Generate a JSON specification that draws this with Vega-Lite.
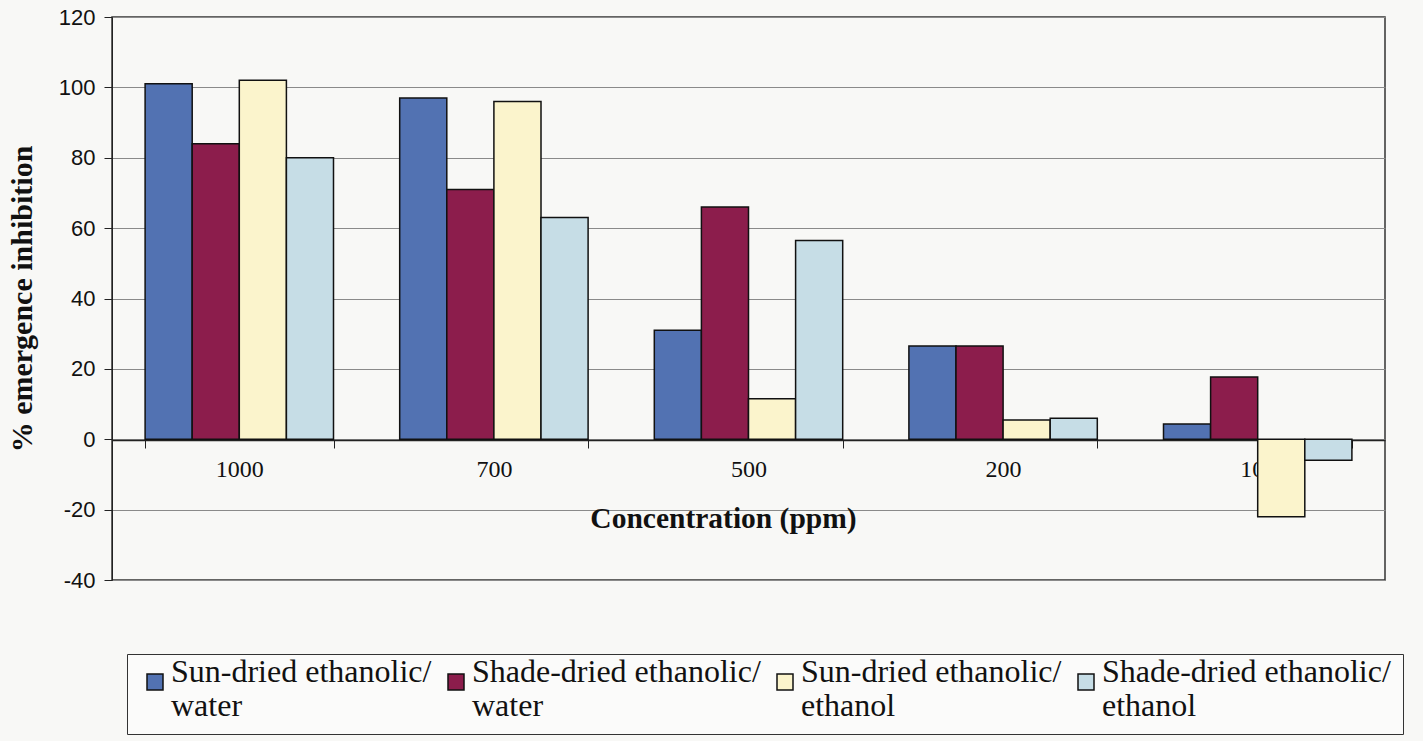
{
  "$schema": "https://vega.github.io/schema/vega-lite/v6.json",
  "autosize": "none",
  "width": 1273,
  "height": 563,
  "padding": {"left": 112, "top": 17, "right": 38, "bottom": 161},
  "background": "#f8f8f6",
  "config": {
    "view": {"stroke": "#333333", "strokeWidth": 1.5},
    "axis": {"labelColor": "#111111", "titleColor": "#111111"}
  },
  "data": {
    "values": [
      {"conc": "1000", "series": "Sun-dried ethanolic/water", "value": 101},
      {"conc": "1000", "series": "Shade-dried ethanolic/water", "value": 84},
      {"conc": "1000", "series": "Sun-dried ethanolic/ethanol", "value": 102},
      {"conc": "1000", "series": "Shade-dried ethanolic/ethanol", "value": 80},
      {"conc": "700", "series": "Sun-dried ethanolic/water", "value": 97},
      {"conc": "700", "series": "Shade-dried ethanolic/water", "value": 71},
      {"conc": "700", "series": "Sun-dried ethanolic/ethanol", "value": 96},
      {"conc": "700", "series": "Shade-dried ethanolic/ethanol", "value": 63},
      {"conc": "500", "series": "Sun-dried ethanolic/water", "value": 31},
      {"conc": "500", "series": "Shade-dried ethanolic/water", "value": 66},
      {"conc": "500", "series": "Sun-dried ethanolic/ethanol", "value": 11.5},
      {"conc": "500", "series": "Shade-dried ethanolic/ethanol", "value": 56.5},
      {"conc": "200", "series": "Sun-dried ethanolic/water", "value": 26.5},
      {"conc": "200", "series": "Shade-dried ethanolic/water", "value": 26.5},
      {"conc": "200", "series": "Sun-dried ethanolic/ethanol", "value": 5.5},
      {"conc": "200", "series": "Shade-dried ethanolic/ethanol", "value": 6},
      {"conc": "100", "series": "Sun-dried ethanolic/water", "value": 4.3},
      {"conc": "100", "series": "Shade-dried ethanolic/water", "value": 17.7},
      {"conc": "100", "series": "Sun-dried ethanolic/ethanol", "value": -22},
      {"conc": "100", "series": "Shade-dried ethanolic/ethanol", "value": -6}
    ]
  },
  "mark": {"type": "bar", "stroke": "#111111", "strokeWidth": 1.5},
  "encoding": {
    "x": {
      "field": "conc",
      "type": "nominal",
      "sort": ["1000", "700", "500", "200", "100"],
      "scale": {"paddingInner": 0.26, "paddingOuter": 0.13},
      "axis": {
        "title": "Concentration (ppm)",
        "titleFont": "Liberation Serif",
        "titleFontSize": 29.5,
        "titleFontWeight": "bold",
        "titlePadding": 23,
        "titleX": 611,
        "titleAlign": "center",
        "labelFont": "Liberation Serif",
        "labelFontSize": 24,
        "labelPadding": 9,
        "labelAngle": 0,
        "offset": -140,
        "domainColor": "#222222",
        "domainWidth": 1.5,
        "tickBand": "extent",
        "tickColor": "#222222",
        "tickSize": 8,
        "grid": false
      }
    },
    "xOffset": {
      "field": "series",
      "type": "nominal",
      "sort": ["Sun-dried ethanolic/water", "Shade-dried ethanolic/water", "Sun-dried ethanolic/ethanol", "Shade-dried ethanolic/ethanol"]
    },
    "y": {
      "field": "value",
      "type": "quantitative",
      "scale": {"domain": [-40, 120], "nice": false},
      "axis": {
        "title": "% emergence inhibition",
        "titleFont": "Liberation Serif",
        "titleFontSize": 30,
        "titleFontWeight": "bold",
        "titlePadding": 21,
        "labelFont": "Liberation Sans",
        "labelFontSize": 22,
        "labelPadding": 9,
        "labelExpr": "toString(datum.value)",
        "values": [-40, -20, 0, 20, 40, 60, 80, 100, 120],
        "grid": true,
        "gridColor": "#8a8a8a",
        "gridWidth": 1.2,
        "domainColor": "#222222",
        "tickColor": "#222222",
        "tickSize": 8
      }
    },
    "color": {
      "field": "series",
      "type": "nominal",
      "sort": ["Sun-dried ethanolic/water", "Shade-dried ethanolic/water", "Sun-dried ethanolic/ethanol", "Shade-dried ethanolic/ethanol"],
      "scale": {
        "domain": ["Sun-dried ethanolic/water", "Shade-dried ethanolic/water", "Sun-dried ethanolic/ethanol", "Shade-dried ethanolic/ethanol"],
        "range": ["#5272b2", "#8c1d4c", "#fbf4cc", "#c6dde6"]
      },
      "legend": {
        "title": null,
        "orient": "none",
        "legendX": 15,
        "legendY": 637,
        "direction": "horizontal",
        "columns": 4,
        "strokeColor": "#333333",
        "fillColor": "#fbfbfa",
        "padding": 12,
        "symbolType": "square",
        "symbolSize": 256,
        "symbolStrokeColor": "#111111",
        "symbolStrokeWidth": 1.5,
        "labelFont": "Liberation Serif",
        "labelFontSize": 32,
        "labelBaseline": "alphabetic",
        "labelColor": "#111111",
        "labelLimit": 400,
        "labelOffset": 0,
        "columnPadding": 8,
        "labelExpr": "[split(datum.label, '/')[0] + '/', split(datum.label, '/')[1]]"
      }
    }
  }
}
